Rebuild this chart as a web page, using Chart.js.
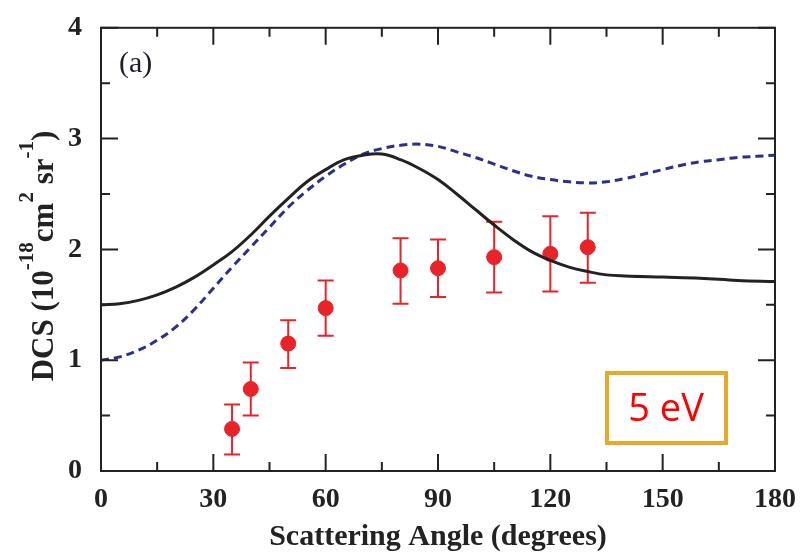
<!DOCTYPE html>
<html lang="en">
<head>
<meta charset="UTF-8">
<title>DCS at 5 eV</title>
<script src="https://cdn.jsdelivr.net/npm/chart.js"></script>
<style>
  html, body { margin: 0; padding: 0; background: #fff; }
</style>
</head>
<body>
<canvas id="dcsChart" width="802" height="555"></canvas>
<script>
// solid theory curve
const solidAngles = [0, 5, 10, 15, 20, 25, 30, 35, 40, 45, 50, 55, 60, 65, 70, 75, 80, 85, 90, 95,
                     100, 105, 110, 115, 120, 125, 130, 135, 140, 150, 160, 170, 180];
const solidDCS    = [1.50, 1.51, 1.54, 1.59, 1.66, 1.75, 1.86, 1.98, 2.13, 2.30, 2.46, 2.61, 2.72, 2.81, 2.85, 2.86, 2.81, 2.73, 2.63, 2.50,
                     2.36, 2.22, 2.09, 1.98, 1.90, 1.84, 1.80, 1.77, 1.76, 1.75, 1.74, 1.72, 1.71];

// dashed theory curve
const dashedAngles = [0, 5, 10, 15, 20, 25, 30, 35, 40, 45, 50, 55, 60, 65, 70, 75, 80, 85, 90, 95,
                      100, 105, 110, 115, 120, 125, 130, 135, 140, 145, 150, 155, 160, 165, 170, 175, 180];
const dashedDCS    = [1.00, 1.03, 1.09, 1.18, 1.30, 1.46, 1.65, 1.84, 2.02, 2.20, 2.38, 2.53, 2.66, 2.77, 2.86, 2.91, 2.94, 2.95, 2.93, 2.88,
                      2.83, 2.77, 2.71, 2.66, 2.63, 2.61, 2.60, 2.61, 2.64, 2.68, 2.72, 2.76, 2.79, 2.81, 2.83, 2.84, 2.85];

// measurements with error bars
const expAngles = [35, 40, 50, 60, 80, 90, 105, 120, 130];
const expDCS    = [0.38, 0.74, 1.15, 1.47, 1.81, 1.83, 1.93, 1.96, 2.02];
const expHigh   = [0.60, 0.98, 1.36, 1.72, 2.10, 2.09, 2.25, 2.30, 2.33];
const expLow    = [0.15, 0.50, 0.93, 1.22, 1.51, 1.57, 1.61, 1.62, 1.70];

const xTicks = [0, 30, 60, 90, 120, 150, 180];
const yTicks = [0, 1, 2, 3, 4];

const SERIF = '"Liberation Serif", "Times New Roman", serif';
const tickFont = { family: SERIF, size: 28, weight: 'bold' };
const INK = '#222';
const RED = '#e8232a';

const toXY = (xs, ys) => xs.map((x, i) => ({ x: x, y: ys[i] }));

// vertical error bars under the points
const errorBars = {
  id: 'errorBars',
  beforeDatasetsDraw(chart) {
    const { ctx, scales: { x, y } } = chart;
    ctx.save();
    ctx.strokeStyle = RED;
    ctx.lineWidth = 2;
    expAngles.forEach((a, i) => {
      const px = x.getPixelForValue(a);
      const top = y.getPixelForValue(expHigh[i]);
      const bot = y.getPixelForValue(expLow[i]);
      ctx.beginPath();
      ctx.moveTo(px, top); ctx.lineTo(px, bot);
      ctx.moveTo(px - 8, top); ctx.lineTo(px + 8, top);
      ctx.moveTo(px - 8, bot); ctx.lineTo(px + 8, bot);
      ctx.stroke();
    });
    ctx.restore();
  }
};

// box frame with inward ticks on all four sides, plus annotations
const frame = {
  id: 'frame',
  afterDraw(chart) {
    const { ctx, chartArea: a, scales: { x, y } } = chart;
    ctx.save();
    ctx.strokeStyle = INK;
    ctx.lineWidth = 2;
    ctx.strokeRect(a.left, a.top, a.right - a.left, a.bottom - a.top);
    ctx.beginPath();
    for (let v = 0; v <= 180; v += 15) {
      const px = x.getPixelForValue(v);
      const len = v % 30 === 0 ? 17 : 9;
      ctx.moveTo(px, a.bottom); ctx.lineTo(px, a.bottom - len);
      ctx.moveTo(px, a.top); ctx.lineTo(px, a.top + len);
    }
    for (let v = 0; v <= 4; v += 0.5) {
      const py = y.getPixelForValue(v);
      const len = v % 1 === 0 ? 17 : 9;
      ctx.moveTo(a.left, py); ctx.lineTo(a.left + len, py);
      ctx.moveTo(a.right, py); ctx.lineTo(a.right - len, py);
    }
    ctx.stroke();

    // panel label
    ctx.fillStyle = '#1c1c30';
    ctx.font = '30px ' + SERIF;
    ctx.textAlign = 'left';
    ctx.textBaseline = 'alphabetic';
    ctx.fillText('(a)', 119, 72);

    // energy tag
    ctx.strokeStyle = '#e8a92a';
    ctx.lineWidth = 4;
    ctx.strokeRect(607, 373, 119, 70);
    ctx.fillStyle = '#ff0000';
    ctx.font = '38px "Open Sans", sans-serif';
    ctx.textAlign = 'center';
    ctx.textBaseline = 'middle';
    ctx.fillText('5 eV', 666, 410);

    // y axis title with superscripts, rotated
    const parts = [
      ['DCS (10', false], ['-18', true], ['cm', false], ['2', true],
      [' sr', false], ['-1', true], [')', false]
    ];
    const big = 'bold 31px ' + SERIF;
    const small = 'bold 21px ' + SERIF;
    let total = 0;
    parts.forEach(([t, sup]) => { ctx.font = sup ? small : big; total += ctx.measureText(t).width; });
    ctx.translate(53, 256);
    ctx.rotate(-Math.PI / 2);
    ctx.fillStyle = INK;
    ctx.textAlign = 'left';
    ctx.textBaseline = 'alphabetic';
    let cx = -total / 2;
    parts.forEach(([t, sup]) => {
      ctx.font = sup ? small : big;
      ctx.fillText(t, cx, sup ? -20 : 0);
      cx += ctx.measureText(t).width;
    });
    ctx.restore();
  }
};

new Chart(document.getElementById('dcsChart'), {
  type: 'scatter',
  data: {
    datasets: [
      {
        label: 'solid',
        data: toXY(solidAngles, solidDCS),
        showLine: true,
        borderColor: INK,
        borderWidth: 3,
        pointRadius: 0,
        tension: 0.4
      },
      {
        label: 'dashed',
        data: toXY(dashedAngles, dashedDCS),
        showLine: true,
        borderColor: '#2b2f90',
        borderWidth: 3,
        borderDash: [8, 5],
        pointRadius: 0,
        tension: 0.4
      },
      {
        label: 'experiment',
        data: toXY(expAngles, expDCS),
        backgroundColor: RED,
        borderColor: RED,
        pointRadius: 7.5
      }
    ]
  },
  options: {
    responsive: false,
    animation: false,
    layout: { padding: { left: 0, right: 27, top: 21, bottom: 0 } },
    plugins: {
      legend: { display: false },
      tooltip: { enabled: false }
    },
    scales: {
      x: {
        type: 'linear',
        min: 0, max: 180,
        afterBuildTicks: s => { s.ticks = xTicks.map(v => ({ value: v })); },
        afterFit: s => { s.height = 84; },
        grid: { display: false },
        border: { display: false },
        ticks: { color: INK, font: tickFont, padding: 4, maxRotation: 0 },
        title: {
          display: true,
          text: 'Scattering Angle (degrees)',
          color: INK,
          font: { family: SERIF, size: 30, weight: 'bold' },
          padding: { top: 0, bottom: 0 }
        }
      },
      y: {
        min: 0, max: 4,
        afterBuildTicks: s => { s.ticks = yTicks.map(v => ({ value: v })); },
        afterFit: s => { s.width = 101; },
        grid: { display: false },
        border: { display: false },
        ticks: { color: INK, font: tickFont, padding: 11 }
      }
    }
  },
  plugins: [errorBars, frame]
});
</script>
</body>
</html>
